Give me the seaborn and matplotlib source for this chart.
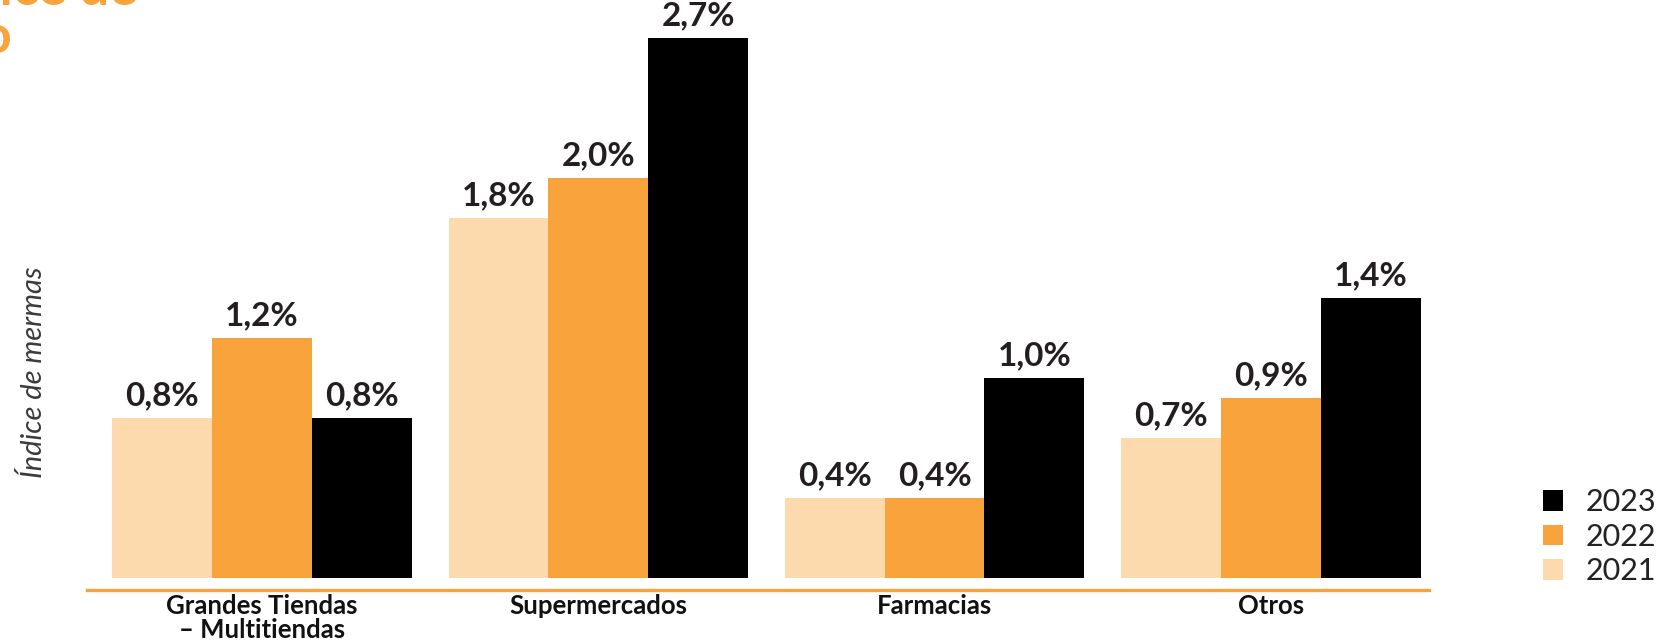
import matplotlib
matplotlib.use("Agg")
import matplotlib.pyplot as plt
from matplotlib.patches import Patch
import seaborn as sns
import pandas as pd

# Shrinkage index by retail format, per year (percent)
categories = ["Grandes Tiendas\n– Multitiendas", "Supermercados", "Farmacias", "Otros"]
years = ["2021", "2022", "2023"]
values_2021 = [0.8, 1.8, 0.4, 0.7]
values_2022 = [1.2, 2.0, 0.4, 0.9]
values_2023 = [0.8, 2.7, 1.0, 1.4]
year_colors = {"2021": "#FDD9AE", "2022": "#F9A33C", "2023": "#000000"}

rows = []
for year, vals in zip(years, [values_2021, values_2022, values_2023]):
    for cat, v in zip(categories, vals):
        rows.append({"Formato": cat, "Año": year, "Índice": v})
df = pd.DataFrame(rows)

sns.set_theme(style="white")
plt.rcParams["font.family"] = ["Lato", "DejaVu Sans"]

W, H = 1666, 642
fig = plt.figure(figsize=(W / 100, H / 100), dpi=100)
ax = fig.add_axes([87 / W, 52 / H, (1429 - 87) / W, 590 / H])

sns.barplot(data=df, x="Formato", y="Índice", hue="Año", order=categories,
            hue_order=years, palette=year_colors, width=0.89, gap=0.0,
            saturation=1, linewidth=0, legend=False, ax=ax)

ax.set_ylim(-0.06, 2.89)
ax.set_xlim(-0.52, 3.47)

# Value labels above each bar
for container in ax.containers:
    for bar in container:
        v = bar.get_height()
        ax.annotate(f"{v:.1f}%".replace(".", ","),
                    (bar.get_x() + bar.get_width() / 2, v),
                    xytext=(0, 9), textcoords="offset points",
                    ha="center", va="baseline", fontsize=24,
                    fontweight="bold", color="#231F20", clip_on=False)

for side in ["left", "right", "top"]:
    ax.spines[side].set_visible(False)
ax.spines["bottom"].set_color("#F7A33B")
ax.spines["bottom"].set_linewidth(2.4)
ax.set_yticks([])
ax.set_xlabel("")
ax.set_ylabel("")
ax.tick_params(axis="x", length=0, pad=3)
for lab in ax.get_xticklabels():
    lab.set_fontsize(18.5)
    lab.set_fontweight("bold")
    lab.set_color("#111111")
    lab.set_linespacing(1.0)

fig.text(34 / W, 1 - 372 / H, "Índice de mermas", rotation=90, ha="center",
         va="center", fontsize=21, fontstyle="italic", fontweight="normal",
         color="#3a3a3a")

# Title (partially outside the canvas)
fig.text(137 / W, 1 - 5 / H, "Índice de", ha="right", va="baseline",
         fontsize=38, fontweight="bold", color="#F9A33C")
fig.text(12 / W, 1 - 53 / H, "mermas por rubro", ha="right", va="baseline",
         fontsize=38, fontweight="bold", color="#F9A33C")

handles = [Patch(facecolor=year_colors[y], edgecolor="none", label=y) for y in reversed(years)]
fig.legend(handles=handles, loc="upper left", bbox_to_anchor=(1543 / W, 1 - 488 / H),
           frameon=False, prop={"weight": "normal", "size": 22},
           handlelength=0.66, handleheight=0.66, handletextpad=0.72,
           labelspacing=0.22, borderpad=0, borderaxespad=0, labelcolor="#222222")

fig.savefig("out.png", dpi=100)
